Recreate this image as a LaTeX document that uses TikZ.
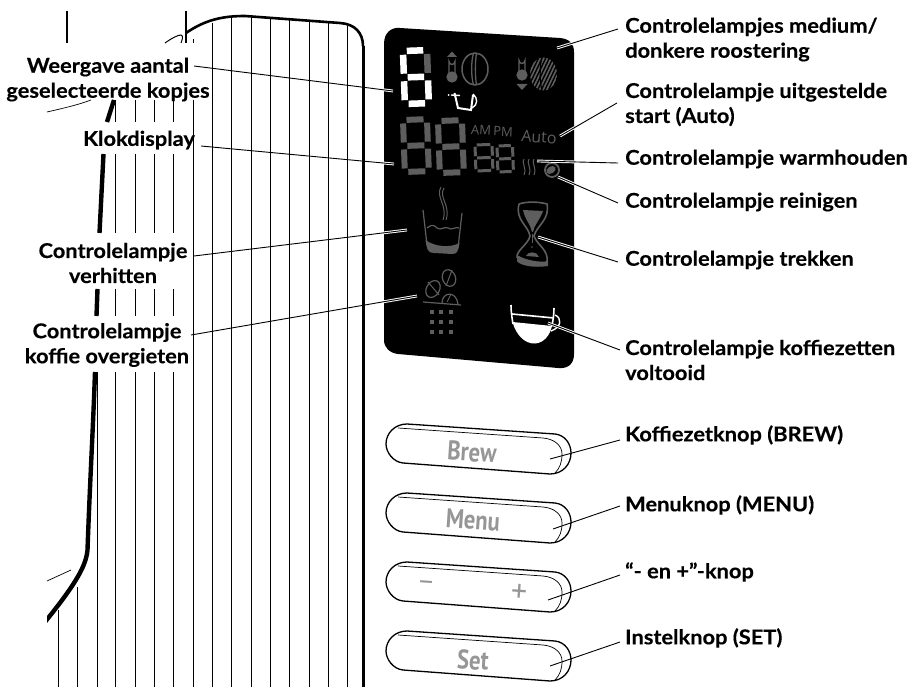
\documentclass[tikz,border=0pt]{standalone}
\usepackage{fontspec}
\setmainfont{Lato}[BoldFeatures={FakeBold=0.35,FakeStretch=1.07}]
\newfontfamily\keyfont{PT Sans}[BoldFeatures={FakeStretch=.84}]
\newfontfamily\dispfont{Open Sans}
\definecolor{dgrey}{HTML}{5E5E5E}
\definecolor{kgrey}{HTML}{969696}
\tikzset{
  x=1pt,y=-1pt,
  lab/.style={font=\fontsize{20.4}{25}\selectfont\bfseries,inner sep=0pt,align=#1},
  lab/.default=center,
  vline/.style={line width=1pt,black},
  outline/.style={line width=4.4pt,black},
  leader/.style={line width=0.9pt,black},
  halo/.style={line width=2.8pt,white},
  ico/.style={draw=dgrey,line width=1.2pt},
  keytxt/.style={font=\keyfont\fontsize{27}{27}\selectfont\bfseries,text=kgrey,inner sep=0pt,rotate=-4},
  btn/.style={line width=1.3pt,black,fill=white}
}
\newcommand\sevenseg[7]{% x y w h t colour upper-right-colour
  \begin{scope}[shift={(#1,#2)},rotate=2]
    \pgfmathsetmacro\gp{#5*.58}
    \pgfmathsetmacro\mm{#4/2}
    \pgfmathsetmacro\xa{\gp}\pgfmathsetmacro\xb{#3-\gp}
    \draw[line width=#5pt,#6] (\xa,0) -- (\xb,0);
    \draw[line width=#5pt,#6] (\xa,\mm) -- (\xb,\mm);
    \draw[line width=#5pt,#6] (\xa,#4) -- (\xb,#4);
    \draw[line width=#5pt,#6] (0,\gp) -- (0,\mm-\gp);
    \draw[line width=#5pt,#7] (#3,\gp) -- (#3,\mm-\gp);
    \draw[line width=#5pt,#6] (0,\mm+\gp) -- (0,#4-\gp);
    \draw[line width=#5pt,#6] (#3,\mm+\gp) -- (#3,#4-\gp);
  \end{scope}}
\begin{document}
\begin{tikzpicture}
\useasboundingbox[fill=white] (0,0) rectangle (913,687);
% vertical housing lines
\foreach \x in {115,135,154,173}{
  \draw[vline] (\x,100) -- (\x,122);
  \draw[vline] (\x,154) -- (\x,233);
  \draw[vline] (\x,289) -- (\x,316);
  \draw[vline] (\x,372) -- (\x,687);
}
\draw[vline] (193,39) -- (193,43);
\draw[vline] (193,100) -- (193,687);
\foreach \x/\y in {212/23,231/18,251/15,270/18,289/19,309/21,328/23,347/26}
  \draw[vline] (\x,\y) -- (\x,687);
\draw[vline] (97,372) -- (97,687);
\draw[vline] (77.5,587) -- (77.5,687);
\draw[vline] (58,610) -- (58,687);
\draw[line width=2pt] (67,11) -- (67,43);
\draw[line width=2pt] (186,11) -- (186,43);
% housing outline
\draw[line width=2.6pt] (186,33) .. controls (205,20) and (222,16) .. (245,16) -- (340,23) .. controls (355,24) and (363,33) .. (363,46);
\draw[line width=3pt] (363,46) -- (363,687);
\draw[line width=1pt] (165,43) .. controls (172,38) and (178,35) .. (181,35) .. controls (184,36) and (182,40) .. (181,43);
\draw[line width=.7pt] (47,112) .. controls (60,109) and (78,105) .. (91,100);
\draw[line width=.7pt] (47,581) -- (71,570);
\draw[outline] (114,100) -- (107,122);
\draw[outline] (103.5,154) -- (99.5,233);
\draw[outline] (97.5,289) -- (96.5,316);
\begin{scope}
 \clip (47,360) rectangle (110,640);
 \draw[outline] (95,372) .. controls (93,430) and (90,480) .. (87.5,550)
  .. controls (86,565) and (78,582) .. (40,628);
\end{scope}
% display panel
\path[fill=black] (400,28) -- (560,38) .. controls (570,39) and (574,44) .. (574,52)
  -- (574,354) .. controls (574,364) and (568,369) .. (558,368)
  -- (398,354) .. controls (390,353) and (384,348) .. (384,340)
  -- (384,44) .. controls (384,33) and (391,27) .. (400,28) -- cycle;
% cup count digit
\sevenseg{403}{51}{24}{53}{6.5}{white}{dgrey}
% clock digits
\sevenseg{403}{120}{24}{52}{6}{dgrey}{dgrey}
\sevenseg{438}{121}{24}{52}{6}{dgrey}{dgrey}
\sevenseg{475}{145}{17}{26}{3}{dgrey}{dgrey}
\sevenseg{497}{146}{15.5}{26}{3}{dgrey}{dgrey}
\node[font=\dispfont\fontsize{13}{13}\selectfont,text=dgrey,inner sep=0pt,rotate=-3] (ampm) at (492,131) {AM\,PM};
\node[font=\dispfont\fontsize{16}{16}\selectfont,text=dgrey,inner sep=0pt,rotate=-4] (auto) at (539,137) {Auto};
% thermometer and bean (medium)
\draw[ico,line width=1.4pt] (449,73) -- (449,61.5) arc[start angle=180,end angle=0,radius=3] -- (455,73);
\draw[ico,fill=dgrey] (452,77) circle[radius=5];
\fill[dgrey] (447,57) -- (452,51.5) -- (457,57) -- cycle;
\draw[ico,line width=1.5pt] (475,69) ellipse[x radius=13,y radius=16];
\draw[ico,line width=1.3pt] (473.5,53) .. controls (471,62) and (471,76) .. (473.5,85);
\draw[ico,line width=1.3pt] (476.5,53) .. controls (475,62) and (475,76) .. (476.5,85);
% thermometer and bean (dark)
\draw[ico,line width=1.4pt] (519,71) -- (519,60.5) arc[start angle=180,end angle=0,radius=3] -- (525,71);
\draw[ico,fill=dgrey] (522,75) circle[radius=5];
\fill[dgrey] (516.5,84) -- (527.5,84) -- (522,90) -- cycle;
\begin{scope}
 \clip (543.5,74) ellipse[x radius=13.5,y radius=16.5];
 \foreach \k in {0,...,13}
   \draw[dgrey,line width=1.6pt] (515+\k*3.6,96) -- (515+\k*3.6+22,50);
 \draw[black,line width=1.2pt] (542,57) .. controls (539.5,66) and (539.5,80) .. (542,91);
\end{scope}
% small white cup
\draw[white,line width=2pt] (454.5,93) -- (458,108) -- (471,110) -- (473,95);
\draw[white,line width=1.4pt] (473,94) .. controls (478,98) and (478,105) .. (472,108);
\fill[white] (448.5,95) circle[radius=1];
\draw[white,line width=1.4pt] (451,95) -- (460,95.5);
% steam and cleaning
\foreach \x in {524,529,534}
  \draw[dgrey,line width=1pt] (\x,159) .. controls (\x-3,163) and (\x+3,167) .. (\x,175);
\draw[ico,line width=1.8pt] (552,170) circle[radius=7];
\fill[dgrey,rotate around={30:(551,170)}] (551,170) ellipse[x radius=5,y radius=3.5];
% glass
\draw[dgrey,line width=1.2pt] (423,210) -- (427,245);
\draw[dgrey,line width=1.2pt] (462,213) -- (458,248);
\fill[dgrey] (425.5,240) .. controls (427,250) and (428,253) .. (434,253) -- (452,254) .. controls (457,254) and (458,252) .. (459.5,243) .. controls (450,248) and (435,247) .. (425.5,240) -- cycle;
\draw[dgrey,line width=1.2pt] (427,228) .. controls (432,224) and (434,225) .. (437,228) .. controls (441,231) and (444,226) .. (448,228) .. controls (452,231) and (456,226) .. (459,228);
\draw[dgrey,line width=1pt] (441,187) .. controls (435,197) and (448,205) .. (443,220);
\draw[dgrey,line width=1pt] (444,188) .. controls (438,197) and (451,205) .. (446,220);
% hourglass
\draw[dgrey,line width=1.6pt] (519,204) .. controls (528,201) and (540,202) .. (547,204) .. controls (550,220) and (537,225) .. (534,236) .. controls (537,245) and (549,250) .. (547,262);
\draw[dgrey,line width=1.6pt] (519,204) .. controls (515,220) and (528,225) .. (530,236) .. controls (528,245) and (516,250) .. (517,258);
\fill[dgrey] (517,255) .. controls (525,260) and (540,263) .. (548,261) -- (548,266) .. controls (535,268) and (520,266) .. (517,261) -- cycle;
\fill[dgrey] (523,210) -- (543,211) .. controls (540,220) and (534,225) .. (533,232) -- (532,232) .. controls (531,225) and (525,220) .. (523,210) -- cycle;
\fill[dgrey] (526,256) .. controls (528,251) and (537,251) .. (539,257) -- cycle;
\draw[dgrey,line width=.9pt] (532,234) -- (532,243);
\fill[dgrey] (532,247) circle[radius=.8];
% falling beans
\draw[ico,rotate around={-30:(433,289)}] (433,289) ellipse[x radius=6.5,y radius=9];
\draw[dgrey,line width=1pt] (428,282) -- (439,295);
\draw[ico,rotate around={20:(449,278)}] (449,278) ellipse[x radius=6.5,y radius=8.5];
\draw[dgrey,line width=1pt] (452,270) -- (446,286);
\draw[ico] (442,303) .. controls (442,292) and (456,290) .. (458,304);
\draw[dgrey,line width=.9pt] (447,302) -- (451,294);
\draw[dgrey,line width=1.2pt] (423,302) -- (461,305);
\foreach \x in {432,441,451} \foreach \y in {312,322,332}
  \fill[dgrey] (\x-2.4,\y-2.4) rectangle (\x+2.4,\y+2.4);
% big white cup
\fill[white] (512.5,322) -- (552,326) .. controls (550,335) and (544,343) .. (535,343.5) .. controls (525,344) and (516,335) .. (512.5,322) -- cycle;
\draw[white,line width=1.6pt] (511,305) .. controls (511,312) and (512,318) .. (513,324);
\draw[white,line width=1.6pt] (554,308) .. controls (554,314) and (553,320) .. (552,326);
\draw[white,line width=1.6pt] (512,314) -- (554,318);
\draw[white,line width=1.4pt] (555,315) .. controls (562,318) and (562,327) .. (551,331);
% buttons
\foreach \dy/\nm in {0/a,69/b,138/c,207/d}{
\begin{scope}[yshift=-\dy pt]
  \draw[btn] (407,424) -- (555,434) .. controls (565,435) and (571,444) .. (571,453)
     .. controls (571,464) and (563,474) .. (550,474)
     -- (403,463) .. controls (393,462) and (386,452) .. (386,444)
     .. controls (386,433) and (395,424) .. (407,424) -- cycle;
  \draw[line width=.7pt] (398,428) -- (543,438) .. controls (555,439) and (562,446) .. (562,454) .. controls (562,462) and (560,468) .. (555,473);
\end{scope}}
\node[keytxt] (kbrew) at (472,452) {Brew};
\node[keytxt] (kmenu) at (473,520) {Menu};
\node[keytxt] (kset) at (473,660) {Set};
\node[keytxt,font=\keyfont\fontsize{28}{28}\selectfont] (kminus) at (426,586) {–};
\node[keytxt,font=\keyfont\fontsize{32}{32}\selectfont] (kplus) at (519,593) {+};
% leader end points
\foreach \n/\a/\b/\c/\d in {
  w/194/66/393/91, k/201/146/394/164, v/194/256/407/230, o/191/335/417/296,
  m/618/29/557/48, u/617/103/560/136, h/618/163/537/161, r/618/203/558/177,
  t/618/262/538/237, z/620/350/548/323,
  b/620/440/550/459, n/620/506/553/529, p/620/575/548/600, s/620/642/550/666}{
  \coordinate (\n1) at (\a,\b);
  \coordinate (\n2) at (\c,\d);
}
\begin{scope}
 \clip (384,28) rectangle (574,369);
 \foreach \n in {w,k,v,o,m,u,h,r,t,z} \draw[halo] (\n1) -- (\n2);
\end{scope}
\foreach \n in {w,k,v,o,m,u,h,r,t,z,b,n,p,s} \draw[leader] (\n1) -- (\n2);
% labels
\node[lab] (lw) at (108,79.5) {Weergave aantal\\geselecteerde kopjes};
\node[lab] (lk) at (139,140) {Klokdisplay};
\node[lab] (lv) at (113,263) {Controlelampje\\verhitten};
\node[lab] (lo) at (107,345) {Controlelampje\\koffie overgieten};
\node[lab=left,anchor=west] (lm) at (625,39.5) {Controlelampjes medium/\\donkere roostering};
\node[lab=left,anchor=west] (lu) at (625,104.5) {Controlelampje uitgestelde\\start (Auto)};
\node[lab=left,anchor=west] (lh) at (625,159) {Controlelampje warmhouden};
\node[lab=left,anchor=west] (lr) at (625,202) {Controlelampje reinigen};
\node[lab=left,anchor=west] (lt) at (625,260) {Controlelampje trekken};
\node[lab=left,anchor=west] (lz) at (625,360) {Controlelampje koffiezetten\\voltooid};
\node[lab=left,anchor=west] (lb) at (625,435) {Koffiezetknop (BREW)};
\node[lab=left,anchor=west] (ln) at (625,505) {Menuknop (MENU)};
\node[lab=left,anchor=west] (lp) at (625,572) {“- en +”-knop};
\node[lab=left,anchor=west] (ls) at (625,638) {Instelknop (SET)};
\end{tikzpicture}
\end{document}
